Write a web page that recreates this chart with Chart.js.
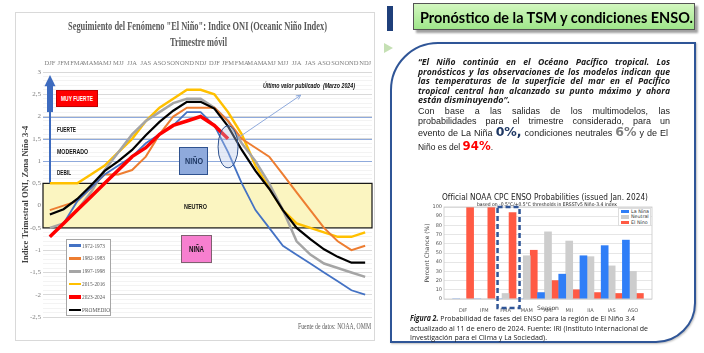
<!DOCTYPE html>
<html lang="es">
<head>
<meta charset="utf-8">
<title>ONI y Pronóstico ENSO</title>
<script src="https://cdn.jsdelivr.net/npm/chart.js@4.4.1/dist/chart.umd.min.js"></script>
<style>
  html, body { margin: 0; padding: 0; background: #fff; }
  #page { position: relative; width: 704px; height: 353px; overflow: hidden; background: #fff; }
  .abs { position: absolute; }
  .t { position: absolute; white-space: nowrap; line-height: 1; transform-origin: left center; transform: translateY(-50%); }
  .serif { font-family: "Liberation Serif", "DejaVu Serif", serif; }
  .narrow { font-family: "Liberation Sans Narrow", "Liberation Sans", Arial, sans-serif; font-weight: bold; }
  #leftCard { left: 15px; top: 12px; width: 360px; height: 329px; border: 1px solid #d9d9d9; background: #fff; }
  #oniWrap { left: 0; top: 0; width: 380px; height: 353px; }
  #probWrap { left: 410px; top: 188px; width: 250px; height: 124px; }
  .box { position: absolute; box-sizing: border-box; }
  #tsmBox { left: 413px; top: 3px; width: 282px; height: 27px; border: 1px solid #555;
            background: linear-gradient(to bottom, #d3f7c0, #9fe68a); box-shadow: 3px 3px 2px #a0a0a0; }
  #panel { left: 390px; top: 42px; width: 306px; height: 301px; border: 2px solid #2f5597;
           border-radius: 48px 0 40px 0; background: #fff; box-shadow: 1px 1px 2px #c0c0c0; }
  .p1 { font-family: "Open Sans", "DejaVu Sans", sans-serif; font-weight: bold; font-style: italic; font-size: 8.6px; color: #1a1a1a; }
  .p2 { font-family: "Liberation Sans", Arial, sans-serif; font-size: 9px; color: #222; }
  .big { font-family: "DejaVu Sans", sans-serif; font-weight: bold; font-size: 12.5px; }
  .cap { font-family: "Open Sans", "DejaVu Sans", sans-serif; font-size: 8px; color: #222; }
  .mpl { font-family: "DejaVu Sans", sans-serif; color: #222; }
</style>
</head>
<body>
<div id="page">
  <!-- left panel -->
  <div id="leftCard" class="box"></div>
  <div id="oniWrap" class="abs"><canvas id="oniChart"></canvas></div>

  <div class="t serif" style="left:68px;top:25px;font-size:13px;font-weight:bold;color:#595959" data-w="259">Seguimiento del Fenómeno "El Niño": Indice ONI (Oceanic Niño Index)</div>
  <div class="t serif" style="left:170px;top:41px;font-size:13px;font-weight:bold;color:#595959" data-w="57">Trimestre móvil</div>

  <div class="box" style="left:56px;top:90px;width:42px;height:17px;background:#ff0000;border:1px solid #c00000"></div>
  <div class="t narrow" style="left:61px;top:98.5px;font-size:7.5px;color:#fff" data-w="32">MUY FUERTE</div>
  <div class="t narrow" style="left:57px;top:130px;font-size:7.5px;color:#111" data-w="19">FUERTE</div>
  <div class="t narrow" style="left:57px;top:152px;font-size:7.5px;color:#111" data-w="31">MODERADO</div>
  <div class="t narrow" style="left:57px;top:173px;font-size:7.5px;color:#111" data-w="14">DEBIL</div>

  <div class="box" style="left:179px;top:147px;width:29px;height:28px;background:#8faadc;border:1px solid #2f528f"></div>
  <div class="t narrow" style="left:185px;top:161px;font-size:9px;color:#1f3864" data-w="18">NIÑO</div>
  <div class="t narrow" style="left:184px;top:207px;font-size:7.5px;color:#111" data-w="23">NEUTRO</div>
  <div class="box" style="left:181px;top:235px;width:31px;height:28px;background:#f77fcf;border:1px solid #7f6070"></div>
  <div class="t narrow" style="left:189px;top:249px;font-size:9px;color:#111" data-w="15">NIÑA</div>

  <div class="t narrow" style="left:263px;top:86px;font-size:7.5px;font-style:italic;color:#111" data-w="92">Último valor publicado&nbsp;&nbsp;(Marzo 2024)</div>
  <div class="t serif" style="left:298px;top:327px;font-size:7.5px;color:#595959" data-w="73">Fuente de datos: NOAA, OMM</div>

  <div id="oniLegend" class="box" style="left:66px;top:239px;width:45px;height:77px;border:1px solid #a6a6a6;background:#fff"></div>

  <!-- right panel -->
  <div class="box" style="left:387px;top:6px;width:6px;height:25px;background:#1f3f7a"></div>
  <div class="abs" style="left:384px;top:43px;width:0;height:0;border-left:9px solid #c5e0b4;border-top:5px solid transparent;border-bottom:5px solid transparent"></div>
  <div id="tsmBox" class="box"></div>
  <div class="t" style="left:420px;top:17px;font-family:Lato,'Open Sans',sans-serif;font-weight:bold;font-size:16px;color:#000" data-w="273">Pronóstico de la TSM y condiciones ENSO.</div>
  <div id="panel" class="box"></div>

  <div class="t p1" style="left:418px;top:62px" data-w="252" data-j="1">“El Niño continúa en el Océano Pacífico tropical. Los</div>
  <div class="t p1" style="left:418px;top:71.5px" data-w="252" data-j="1">pronósticos y las observaciones de los modelos indican que</div>
  <div class="t p1" style="left:418px;top:81px" data-w="252" data-j="1">las temperaturas de la superficie del mar en el Pacífico</div>
  <div class="t p1" style="left:418px;top:90.5px" data-w="252" data-j="1">tropical central han alcanzado su punto máximo y ahora</div>
  <div class="t p1" style="left:418px;top:100px" data-w="92">están disminuyendo”.</div>

  <div class="t p2" style="left:418px;top:110.5px" data-w="252" data-j="1">Con base a las salidas de los multimodelos, las</div>
  <div class="t p2" style="left:418px;top:120.5px" data-w="252" data-j="1">probabilidades para el trimestre considerado, para un</div>
  <div class="t p2" style="left:418px;top:132px" data-w="250" data-j="1">evento de La Niña <span class="big" style="color:#1f3864">0%,</span> condiciones neutrales <span class="big" style="color:#808080">6%</span> y de El</div>
  <div class="t p2" style="left:418px;top:146px" data-w="75">Niño es del <span class="big" style="color:#ff0000">94%</span>.</div>

  <div class="t mpl" style="left:442px;top:196.5px;font-size:8.5px" data-w="206">Official NOAA CPC ENSO Probabilities (issued Jan. 2024)</div>
  <div class="t mpl" style="left:477px;top:204px;font-size:5px" data-w="140">based on -0.5°C/+0.5°C thresholds in ERSSTv5 Niño-3.4 index</div>
  <div id="probWrap" class="abs"><canvas id="probChart"></canvas></div>
  <div id="probLegend" class="box" style="left:618px;top:208px;width:33px;height:18px;border:1px solid #ddd;background:#fff"></div>

  <div class="t cap" style="left:410px;top:318px" data-w="225"><b><i>Figura 2.</i></b> Probabilidad de fases del ENSO para la región de El Niño 3.4</div>
  <div class="t cap" style="left:410px;top:327.5px" data-w="238">actualizado al 11 de enero de 2024. Fuente: IRI (Instituto Internacional de</div>
  <div class="t cap" style="left:410px;top:336.5px" data-w="137">Investigación para el Clima y La Sociedad).</div>
</div>

<script>
// --- ONI DATA (rolling 3-month season, two consecutive years) ---
const oniSeasons = ['DJF', 'JFM', 'FMA', 'MAM', 'AMJ', 'MJJ', 'JJA', 'JAS', 'ASO', 'SON', 'OND', 'NDJ',
  'DJF', 'JFM', 'FMA', 'MAM', 'AMJ', 'MJJ', 'JJA', 'JAS', 'ASO', 'SON', 'OND', 'NDJ'];
const oniNames = ['1972-1973', '1982-1983', '1997-1998', '2015-2016', '2023-2024', 'PROMEDIO'];
const oni1972 = [-0.7, -0.4, 0.1, 0.4, 0.7, 0.9, 1.1, 1.4, 1.6, 1.8, 2.1, 2.1,
  1.8, 1.2, 0.5, -0.1, -0.5, -0.9, -1.1, -1.3, -1.5, -1.7, -1.9, -2.0];
const oni1982 = [-0.1, 0.0, 0.1, 0.4, 0.7, 0.7, 0.8, 1.1, 1.6, 2.0, 2.2, 2.2,
  2.2, 1.9, 1.5, 1.3, 1.1, 0.7, 0.3, -0.1, -0.5, -0.8, -1.0, -0.9];
const oni1997 = [-0.5, -0.4, -0.1, 0.3, 0.8, 1.2, 1.6, 1.9, 2.1, 2.3, 2.4, 2.4,
  2.2, 1.9, 1.4, 1.0, 0.5, -0.1, -0.8, -1.1, -1.3, -1.4, -1.5, -1.6];
const oni2015 = [0.5, 0.5, 0.5, 0.7, 0.9, 1.2, 1.5, 1.9, 2.2, 2.4, 2.6, 2.6,
  2.5, 2.1, 1.6, 0.9, 0.4, -0.1, -0.4, -0.5, -0.6, -0.7, -0.7, -0.6];
const oni2023 = [-0.7, -0.4, -0.1, 0.2, 0.5, 0.8, 1.1, 1.3, 1.6, 1.8, 1.9, 2.0,
  1.8, 1.5, null, null, null, null, null, null, null, null, null, null];
const oniAverage = [-0.2, -0.08, 0.15, 0.45, 0.78, 1.0, 1.25, 1.58, 1.88, 2.13, 2.33, 2.33,
  2.18, 1.78, 1.25, 0.78, 0.38, -0.1, -0.5, -0.75, -0.98, -1.15, -1.28, -1.28];

// --- ENSO PROBABILITY DATA (%) ---
const probSeasons = ['DJF', 'JFM', 'FMA', 'MAM', 'AMJ', 'MJJ', 'JJA', 'JAS', 'ASO'];
const probNames = ['La Nina', 'Neutral', 'El Nino'];
const probLaNina = [0, 0, 0, 0, 7, 27, 47, 58, 64];
const probNeutral = [0, 0, 6, 47, 73, 63, 46, 36, 30];
const probElNino = [100, 100, 94, 53, 20, 10, 7, 6, 6];

// --- STYLES ---
const oniSeries = [oni1972, oni1982, oni1997, oni2015, oni2023, oniAverage];
const oniColors = ['#4472c4', '#ed7d31', '#a5a5a5', '#ffc000', '#ff0000', '#000000'];
const oniWidths = [1.8, 2, 2.5, 2.5, 3.5, 2.2];
const oniOrder = [2, 3, 4, 5, 0, 1]; // red on top, then black
const probSeries = [probLaNina, probNeutral, probElNino];
const probColors = ['#2f7ef7', '#cdcdcd', '#ff5a44'];

const isHalf = (v) => Math.abs(v * 2 - Math.round(v * 2)) < 1e-6;

// Bands, arrow and call-out drawn on the ONI chart
const oniDecor = {
  id: 'oniDecor',
  beforeDatasetsDraw(chart) {
    const { ctx, chartArea: a, scales: { y } } = chart;
    ctx.save();
    // neutral band
    const y1 = y.getPixelForValue(0.5);
    const y2 = y.getPixelForValue(-0.5);
    ctx.fillStyle = '#fbf5c1';
    ctx.fillRect(a.left, y1, a.right - a.left, y2 - y1);
    ctx.strokeStyle = '#111';
    ctx.lineWidth = 1.2;
    ctx.strokeRect(a.left, y1, a.right - a.left, y2 - y1);
    // intensity thresholds
    ctx.strokeStyle = '#8faadc';
    ctx.lineWidth = 1.2;
    [1, 1.5, 2].forEach((v) => {
      const py = Math.round(y.getPixelForValue(v)) + 0.5;
      ctx.beginPath();
      ctx.moveTo(a.left, py);
      ctx.lineTo(a.right, py);
      ctx.stroke();
    });
    // vertical arrow
    const ax = a.left + 7;
    ctx.strokeStyle = '#3d6bbf';
    ctx.lineWidth = 2;
    ctx.beginPath();
    ctx.moveTo(ax, y1);
    ctx.lineTo(ax, y.getPixelForValue(2.1));
    ctx.stroke();
    ctx.fillStyle = '#3d6bbf';
    const stemTop = y.getPixelForValue(2.7);
    ctx.fillRect(ax - 3, stemTop, 6, y.getPixelForValue(2.1) - stemTop);
    ctx.beginPath();
    ctx.moveTo(ax - 5.5, stemTop + 1);
    ctx.lineTo(ax + 5.5, stemTop + 1);
    ctx.lineTo(ax, y.getPixelForValue(2.93));
    ctx.closePath();
    ctx.fill();
    ctx.restore();
  },
  afterDatasetsDraw(chart) {
    const { ctx, scales: { x, y } } = chart;
    ctx.save();
    const ex = x.getPixelForValue(13);
    const ey = y.getPixelForValue(1.32);
    ctx.beginPath();
    ctx.ellipse(ex, ey, 10, 21, 0, 0, Math.PI * 2);
    ctx.fillStyle = 'rgba(180,199,231,0.35)';
    ctx.fill();
    ctx.strokeStyle = '#2f528f';
    ctx.lineWidth = 1;
    ctx.stroke();
    // call-out line towards the label
    const sx = ex + 10, sy = ey - 9;
    const tx = x.getPixelForValue(18.3), ty = y.getPixelForValue(2.48);
    ctx.strokeStyle = '#8faadc';
    ctx.beginPath();
    ctx.moveTo(sx, sy);
    ctx.lineTo(tx, ty);
    ctx.stroke();
    const ang = Math.atan2(ty - sy, tx - sx);
    ctx.beginPath();
    ctx.moveTo(tx - 5 * Math.cos(ang - 0.45), ty - 5 * Math.sin(ang - 0.45));
    ctx.lineTo(tx, ty);
    ctx.lineTo(tx - 5 * Math.cos(ang + 0.45), ty - 5 * Math.sin(ang + 0.45));
    ctx.stroke();
    ctx.restore();
  }
};

// Frame and dashed highlight on the probability chart
const probDecor = {
  id: 'probDecor',
  afterDraw(chart) {
    const { ctx, chartArea: a, scales: { x } } = chart;
    ctx.save();
    ctx.strokeStyle = '#c8c8c8';
    ctx.lineWidth = 0.8;
    ctx.strokeRect(a.left, a.top, a.right - a.left, a.bottom - a.top);
    const cx = x.getPixelForValue(2);
    ctx.setLineDash([5, 3]);
    ctx.lineWidth = 2.5;
    ctx.strokeStyle = '#2f5597';
    ctx.strokeRect(cx - 8, a.top, 22, a.bottom - a.top + 9);
    ctx.restore();
  }
};

function initOniChart() {
  new Chart(document.getElementById('oniChart'), {
    type: 'line',
    data: {
      labels: oniSeasons,
      datasets: oniSeries.map((s, i) => ({
        label: oniNames[i],
        data: s,
        borderColor: oniColors[i],
        backgroundColor: oniColors[i],
        borderWidth: oniWidths[i],
        order: oniOrder[i],
        pointRadius: 0,
        tension: 0,
        spanGaps: false
      }))
    },
    options: {
      animation: false,
      responsive: true,
      maintainAspectRatio: false,
      layout: { padding: { left: 18, top: 55, right: 8, bottom: 36 } },
      plugins: { legend: { display: false }, tooltip: { enabled: false } },
      scales: {
        x: {
          position: 'top',
          offset: true,
          grid: { display: false, drawTicks: false },
          border: { display: false },
          ticks: { autoSkip: false, maxRotation: 0, padding: 5, color: '#7f7f7f',
            font: { family: 'Liberation Serif', size: 6.5 } },
          afterFit: (s) => { s.height = 17; }
        },
        y: {
          min: -2.5,
          max: 3,
          border: { display: false },
          grid: {
            drawTicks: false,
            color: (c) => (c.tick && isHalf(c.tick.value) ? '#d9d9d9' : '#f3f3f3')
          },
          ticks: {
            stepSize: 0.1,
            autoSkip: false,
            padding: 2,
            color: '#7f7f7f',
            font: { family: 'Liberation Serif', size: 7 },
            callback: (v) => (isHalf(v) ? String(Math.round(v * 10) / 10).replace('.', ',') : '')
          },
          title: {
            display: true,
            text: 'Indice Trimestral ONI, Zona Niño 3-4',
            color: '#404040',
            font: { family: 'Liberation Serif', size: 8.5, weight: 'bold' },
            padding: { top: 3, bottom: 0 }
          },
          afterFit: (s) => { s.width = 25; }
        }
      }
    },
    plugins: [oniDecor]
  });
}

function initProbChart() {
  new Chart(document.getElementById('probChart'), {
    type: 'bar',
    data: {
      datasets: probSeries.map((s, i) => ({
        label: probNames[i],
        data: s.map((v, k) => ({ x: k, y: v })),
        backgroundColor: probColors[i],
        borderWidth: 0,
        barThickness: 7
      }))
    },
    options: {
      animation: false,
      responsive: true,
      maintainAspectRatio: false,
      layout: { padding: { left: 14, top: 19, right: 8, bottom: 0 } },
      plugins: { legend: { display: false }, tooltip: { enabled: false } },
      scales: {
        x: {
          type: 'linear',
          min: -0.9,
          max: 8.9,
          offset: false,
          grid: { display: false, offset: false },
          border: { display: false },
          afterBuildTicks: (axis) => { axis.ticks = probSeasons.map((s, i) => ({ value: i })); },
          ticks: { autoSkip: false, maxRotation: 0, padding: 1, color: '#555',
            font: { family: 'DejaVu Sans', size: 5 },
            callback: (v) => probSeasons[v] },
          title: { display: true, text: 'Season', color: '#444', padding: 0,
            font: { family: 'DejaVu Sans', size: 6 } },
          afterFit: (s) => { s.height = 13; }
        },
        y: {
          min: 0,
          max: 100,
          border: { display: false },
          grid: { color: '#e6e6e6', drawTicks: false },
          ticks: { stepSize: 10, padding: 2, color: '#555', font: { family: 'DejaVu Sans', size: 5 } },
          title: { display: true, text: 'Percent Chance (%)', color: '#444', padding: 0,
            font: { family: 'DejaVu Sans', size: 6 } },
          afterFit: (s) => { s.width = 20; }
        }
      }
    },
    plugins: [probDecor]
  });
}

// HTML legends built from the series names and colours
function buildLegends() {
  const page = document.getElementById('page');
  oniNames.forEach((name, i) => {
    const cy = 245.5 + i * 12.9;
    const sw = document.createElement('div');
    sw.className = 'abs';
    const h = i === 4 ? 3.5 : 2.5;
    sw.style.cssText = `left:69px;top:${cy - h / 2}px;width:12px;height:${h}px;background:${oniColors[i]}`;
    page.appendChild(sw);
    const t = document.createElement('div');
    t.className = 't serif';
    t.style.cssText = 'left:82px;top:' + cy + 'px;font-size:7px;color:#595959';
    t.dataset.w = i === 5 ? 28 : 23;
    t.textContent = name;
    page.appendChild(t);
  });
  probNames.forEach((name, i) => {
    const cy = 211.5 + i * 5.6;
    const sw = document.createElement('div');
    sw.className = 'abs';
    sw.style.cssText = `left:621px;top:${cy - 1.8}px;width:8px;height:3.6px;background:${probColors[i]}`;
    page.appendChild(sw);
    const t = document.createElement('div');
    t.className = 't mpl';
    t.style.cssText = 'left:631px;top:' + cy + 'px;font-size:4.8px;color:#333';
    t.textContent = name;
    page.appendChild(t);
  });
}

// Squeeze or justify each text line to the width it takes in the slide
function fitTexts() {
  document.querySelectorAll('.t').forEach((el) => {
    const w = parseFloat(el.dataset.w);
    if (!w) return;
    const nat = el.getBoundingClientRect().width;
    if (nat > w) {
      el.style.transform = `translateY(-50%) scaleX(${w / nat})`;
    } else if (el.dataset.j) {
      el.style.whiteSpace = 'normal';
      el.style.width = w + 'px';
      el.style.textAlign = 'justify';
      el.style.textAlignLast = 'justify';
    } else {
      el.style.transform = `translateY(-50%) scaleX(${Math.min(1.15, w / nat)})`;
    }
  });
}

document.addEventListener('DOMContentLoaded', () => {
  buildLegends();
  initOniChart();
  initProbChart();
  fitTexts();
});
</script>
</body>
</html>
